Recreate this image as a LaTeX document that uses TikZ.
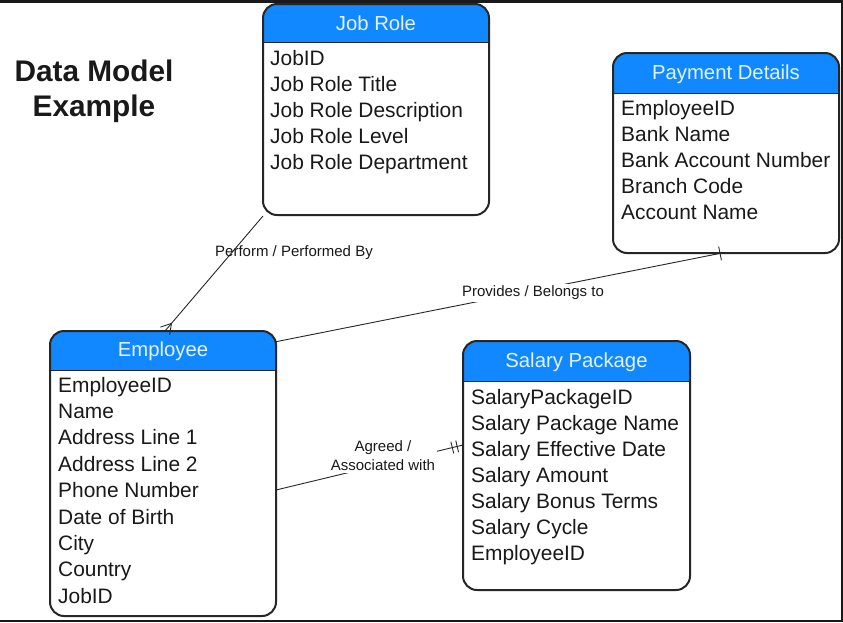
\documentclass[tikz,border=0pt]{standalone}
\usepackage{fontspec}
\setmainfont{Liberation Sans}
\usetikzlibrary{calc}
\definecolor{hdr}{RGB}{17,136,255}
\definecolor{hdrtxt}{RGB}{225,243,255}
\begin{document}
\begin{tikzpicture}[x=1pt,y=-1pt,
  tbl/.style={draw=none, fill=white, rounded corners=14pt, inner sep=0pt, outer sep=0pt, anchor=north west},
  border/.style={draw=black!85, line width=2pt, rounded corners=14pt},
  hdrline/.style={draw=black!85, line width=1pt},
  ttl/.style={text=hdrtxt, inner sep=0pt, font=\fontsize{20.3}{24}\selectfont},
  row/.style={anchor=base west, inner sep=0pt, text=black!90, font=\fontsize{20.9}{24}\selectfont},
  lbl/.style={font=\fontsize{15}{19}\selectfont, text=black!90, align=center, inner sep=2pt},
  conn/.style={draw=black!85, line width=0.9pt},
  frame/.style={draw=black!90}]
\useasboundingbox (0,0) rectangle (843,622);
\fill[white] (0,0) rectangle (843,622);

% Title
\node[font=\bfseries\fontsize{29.8}{35}\selectfont, align=center, text=black!90] (title) at (94,91) {Data Model\\Example};

% ---------- Job Role ----------
\node[tbl, minimum width=226pt, minimum height=211pt] (job) at (263,4) {};
\begin{scope}
  \clip[rounded corners=14pt] (job.north west) rectangle (job.south east);
  \fill[hdr] (job.north west) rectangle ($(job.north east)+(0,38)$);
\end{scope}
\draw[hdrline] ($(job.north west)+(0,38)$) -- ($(job.north east)+(0,38)$);
\draw[border] (job.north west) rectangle (job.south east);
\node[ttl] (jobT) at ($(job.north)+(0,19)$) {Job Role};
\foreach \t [count=\i] in {JobID, Job Role Title, Job Role Description, Job Role Level, Job Role Department}
  \node[row] (job-\i) at (270,39+26*\i) {\t};

% ---------- Payment Details ----------
\node[tbl, minimum width=226pt, minimum height=200pt] (pay) at (613,53) {};
\begin{scope}
  \clip[rounded corners=14pt] (pay.north west) rectangle (pay.south east);
  \fill[hdr] (pay.north west) rectangle ($(pay.north east)+(0,40)$);
\end{scope}
\draw[hdrline] ($(pay.north west)+(0,40)$) -- ($(pay.north east)+(0,40)$);
\draw[border] (pay.north west) rectangle (pay.south east);
\node[ttl] (payT) at ($(pay.north)+(0,21)$) {Payment Details};
\foreach \t [count=\i] in {EmployeeID, Bank Name, Bank Account Number, Branch Code, Account Name}
  \node[row] (pay-\i) at (621,88.8+26.2*\i) {\t};

% ---------- Employee ----------
\node[tbl, minimum width=226pt, minimum height=285pt] (emp) at (50,331) {};
\begin{scope}
  \clip[rounded corners=14pt] (emp.north west) rectangle (emp.south east);
  \fill[hdr] (emp.north west) rectangle ($(emp.north east)+(0,39)$);
\end{scope}
\draw[hdrline] ($(emp.north west)+(0,39)$) -- ($(emp.north east)+(0,39)$);
\draw[border] (emp.north west) rectangle (emp.south east);
\node[ttl] (empT) at ($(emp.north)+(0,20)$) {Employee};
\foreach \t [count=\i] in {EmployeeID, Name, Address Line 1, Address Line 2, Phone Number, Date of Birth, City, Country, JobID}
  \node[row] (emp-\i) at (58,365.6+26.4*\i) {\t};

% ---------- Salary Package ----------
\node[tbl, minimum width=227pt, minimum height=249pt] (sal) at (463,341) {};
\begin{scope}
  \clip[rounded corners=14pt] (sal.north west) rectangle (sal.south east);
  \fill[hdr] (sal.north west) rectangle ($(sal.north east)+(0,40)$);
\end{scope}
\draw[hdrline] ($(sal.north west)+(0,40)$) -- ($(sal.north east)+(0,40)$);
\draw[border] (sal.north west) rectangle (sal.south east);
\node[ttl] (salT) at ($(sal.north)+(0,21)$) {Salary Package};
\foreach \t [count=\i] in {SalaryPackageID, Salary Package Name, Salary Effective Date, Salary Amount, Salary Bonus Terms, Salary Cycle, EmployeeID}
  \node[row] (sal-\i) at (471,378+26*\i) {\t};

% ---------- Connectors ----------
\coordinate (jr) at ([yshift=-1pt]job.south west);
\coordinate (ee) at ([xshift=2pt]emp.north);
\coordinate (e2) at ([yshift=-10.7pt]emp.north east);
\coordinate (pd) at ([xshift=-4pt]pay.south);
\coordinate (e3) at ([yshift=-16.5pt]emp.east);
\coordinate (sp) at ([yshift=20.5pt]sal.west);

% Job Role -- Employee (crow's foot at Employee)
\draw[conn] (jr) -- (ee);
\draw[conn] ($(ee)!10pt!(jr)$) -- ($(ee)!6pt!90:(jr)$);
\draw[conn] ($(ee)!10pt!(jr)$) -- ($(ee)!6pt!-90:(jr)$);

% Employee -- Payment Details (bar at Payment)
\draw[conn] (e2) -- (pd);
\draw[conn] ($($(pd)!2pt!(e2)$)!7pt!90:(e2)$) -- ($($(pd)!2pt!(e2)$)!7pt!-90:(e2)$);

% Employee -- Salary Package (double bar at Salary)
\draw[conn] (e3) -- (sp);
\draw[conn] ($($(sp)!6pt!(e3)$)!6pt!90:(e3)$) -- ($($(sp)!6pt!(e3)$)!6pt!-90:(e3)$);
\draw[conn] ($($(sp)!11pt!(e3)$)!6pt!90:(e3)$) -- ($($(sp)!11pt!(e3)$)!6pt!-90:(e3)$);

% Labels
\node[lbl] (l1) at (294,253) {Perform / Performed By};
\node[lbl, fill=white] (l2) at (533,293) {Provides / Belongs to};
\node[lbl, fill=white] (l3) at (383,456) {Agreed /\\Associated with};

% Frame
\draw[frame, line width=2.7pt] (0,1.35) -- (843,1.35);
\draw[frame, line width=2pt] (841.5,0) -- (841.5,622);
\draw[frame, line width=2pt] (0,620.5) -- (843,620.5);
\end{tikzpicture}
\end{document}
